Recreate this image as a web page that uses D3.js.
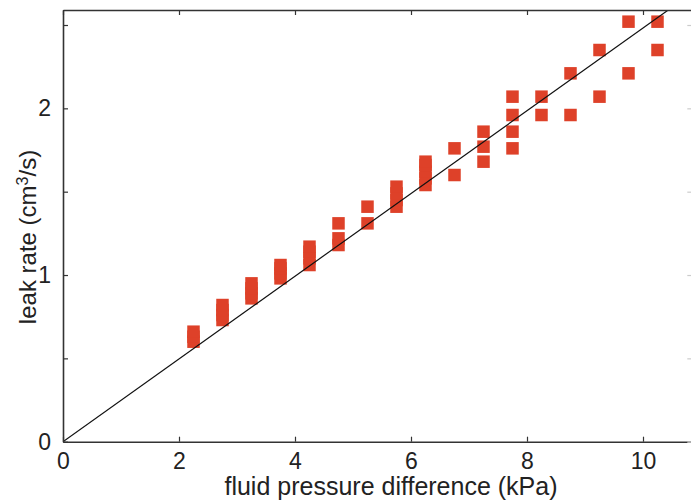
<!DOCTYPE html>
<html>
<head>
<meta charset="utf-8">
<script src="https://cdn.jsdelivr.net/npm/d3@7"></script>
<style>
  body { margin: 0; background: #fff; }
  text { font-family: "Liberation Sans", Arial, sans-serif; fill: #222; }
</style>
</head>
<body>
<script>
// measured points (x in kPa, y in cm3/s)
let pressure = [2.25, 2.25, 2.25,
  2.75, 2.75, 2.75, 2.75,
  3.25, 3.25, 3.25, 3.25,
  3.75, 3.75, 3.75, 3.75,
  4.25, 4.25, 4.25, 4.25,
  4.75, 4.75, 4.75,
  5.25, 5.25,
  5.75, 5.75, 5.75, 5.75,
  6.25, 6.25, 6.25, 6.25, 6.25,
  6.75, 6.75,
  7.25, 7.25, 7.25,
  7.75, 7.75, 7.75, 7.75,
  8.25, 8.25,
  8.75, 8.75,
  9.25, 9.25,
  9.75, 9.75,
  10.25, 10.25];
let leak = [0.60, 0.63, 0.66,
  0.73, 0.76, 0.79, 0.82,
  0.86, 0.89, 0.92, 0.95,
  0.98, 1.01, 1.04, 1.06,
  1.06, 1.10, 1.14, 1.17,
  1.18, 1.22, 1.31,
  1.31, 1.41,
  1.41, 1.45, 1.49, 1.53,
  1.54, 1.58, 1.62, 1.66, 1.68,
  1.60, 1.76,
  1.68, 1.77, 1.86,
  1.76, 1.86, 1.96, 2.07,
  1.96, 2.07,
  1.96, 2.21,
  2.07, 2.35,
  2.21, 2.52,
  2.35, 2.52];
// fitted line
let fitX = [0, 11];
let fitY = [0, 2.73];

let xTicks = [0, 2, 4, 6, 8, 10];
let yTicks = [0, 0.5, 1, 1.5, 2, 2.5];
let yLabels = [0, 1, 2];

let w = 691;
let h = 500;
let pLeft = 63, pTop = 10, pRight = 692.3, pBottom = 441.7;

let svg = d3.select("body").append("svg").attr("width", w).attr("height", h);

let x = d3.scaleLinear().domain([0, 10.85]).range([pLeft, pRight]);
let y = d3.scaleLinear().domain([0, 2.59]).range([pBottom, pTop]);

svg.append("clipPath").attr("id", "clip")
  .append("rect")
  .attr("x", pLeft).attr("y", pTop)
  .attr("width", pRight - pLeft).attr("height", pBottom - pTop);

let sq = 12.5;
let dots = pressure.map(function(p, i) { return [p, leak[i]]; });

svg.append("g")
  .selectAll("rect")
  .data(dots)
  .enter()
  .append("rect")
  .attr("x", function(d) { return x(d[0]) - sq / 2; })
  .attr("y", function(d) { return y(d[1]) - sq / 2; })
  .attr("width", sq)
  .attr("height", sq)
  .attr("fill", "#de4129");

let line = d3.line()
  .x(function(d) { return x(d[0]); })
  .y(function(d) { return y(d[1]); });

svg.append("path")
  .datum(fitX.map(function(v, i) { return [v, fitY[i]]; }))
  .attr("clip-path", "url(#clip)")
  .attr("d", line)
  .attr("fill", "none")
  .attr("stroke", "#111")
  .attr("stroke-width", 1.2);

// box and inward ticks
let axisColor = "#333";
let bottomAxis = d3.axisBottom(x).tickValues(xTicks).tickSizeInner(-5).tickSizeOuter(0)
  .tickFormat(d3.format("d")).tickPadding(11);
let gx = svg.append("g").attr("transform", "translate(0," + pBottom + ")").call(bottomAxis);
let topAxis = d3.axisTop(x).tickValues(xTicks).tickSizeInner(-5).tickSizeOuter(0).tickFormat("");
let gt = svg.append("g").attr("transform", "translate(0," + pTop + ")").call(topAxis);
let leftAxis = d3.axisLeft(y).tickValues(yTicks).tickSizeInner(-5).tickSizeOuter(0)
  .tickFormat(function(d) { return yLabels.indexOf(d) >= 0 ? d : ""; }).tickPadding(12);
let gy = svg.append("g").attr("transform", "translate(" + pLeft + ",0)").call(leftAxis);
let rightAxis = d3.axisRight(y).tickValues(yTicks).tickSizeInner(-5).tickSizeOuter(0).tickFormat("");
let gr = svg.append("g").attr("transform", "translate(" + pRight + ",0)").call(rightAxis);

[gx, gt, gy, gr].forEach(function(g) {
  g.select(".domain").attr("stroke", axisColor).attr("stroke-width", 1.6);
  g.selectAll(".tick line").attr("stroke", axisColor).attr("stroke-width", 1.2);
  g.selectAll(".tick text")
    .attr("font-family", "Liberation Sans, Arial, sans-serif")
    .attr("font-size", "23px")
    .attr("fill", "#222");
});
gr.selectAll(".tick line").attr("stroke", "#ccc");

svg.append("text")
  .attr("x", 391)
  .attr("y", 495)
  .attr("text-anchor", "middle")
  .attr("font-size", "25px")
  .text("fluid pressure difference (kPa)");

let yl = svg.append("text")
  .attr("transform", "translate(36,237) rotate(-90)")
  .attr("text-anchor", "middle")
  .attr("font-size", "24px");
yl.append("tspan").text("leak rate (cm");
yl.append("tspan").attr("font-size", "16px").attr("dy", -8).text("3");
yl.append("tspan").attr("dy", 8).text("/s)");
</script>
</body>
</html>
